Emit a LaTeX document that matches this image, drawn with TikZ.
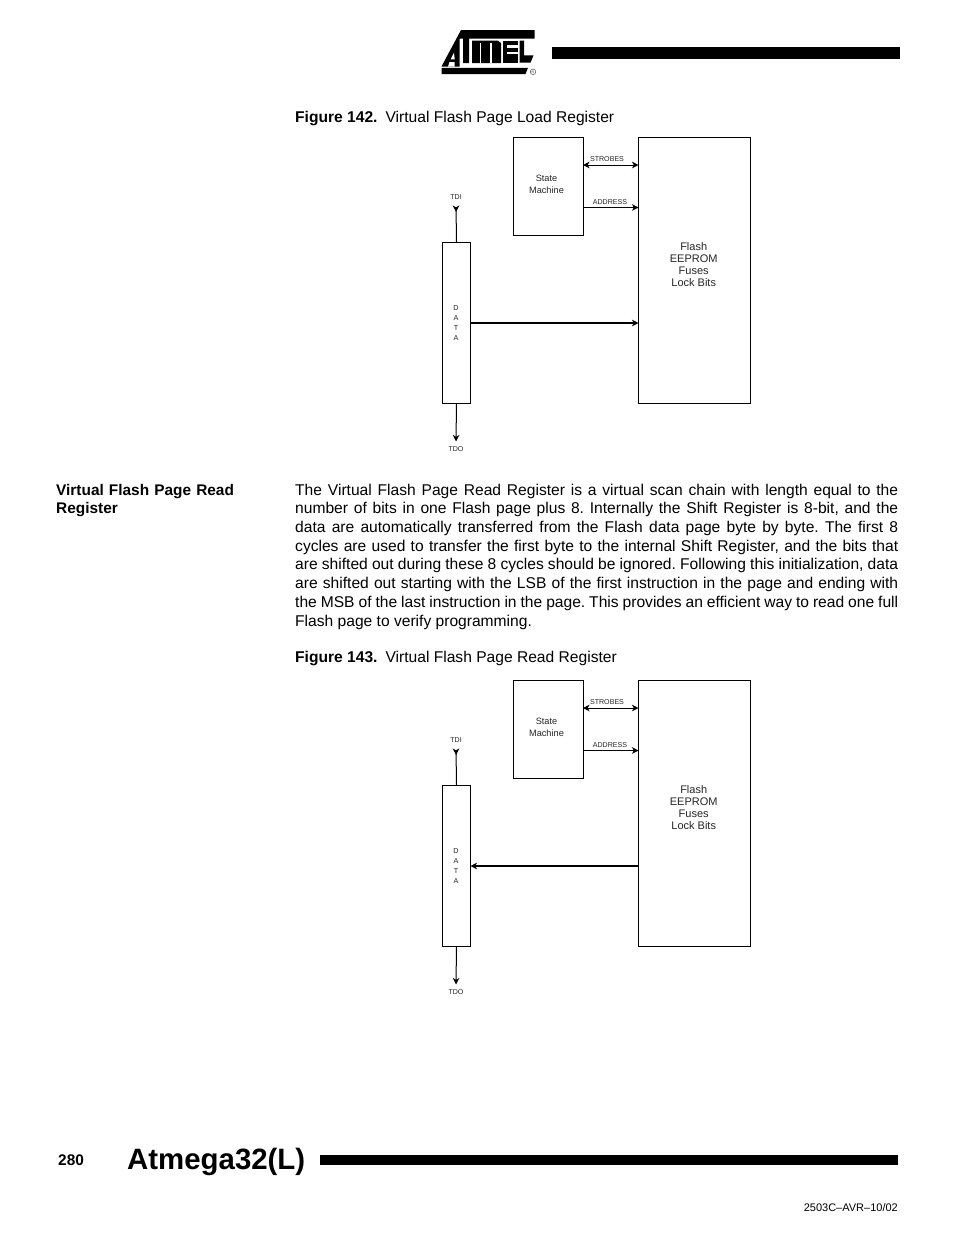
\documentclass[tikz,border=0pt]{standalone}
\usepackage{fontspec}
\setmainfont{Liberation Sans}
\usetikzlibrary{arrows.meta}
\frenchspacing
\tikzset{
  box/.style={draw=black,line width=1pt,inner sep=0pt,outer sep=0pt,anchor=north west,fill=white},
  smtext/.style={font=\fontsize{9.2}{12}\selectfont,text=black!85,inner sep=0pt,align=center},
  fltext/.style={font=\fontsize{11}{12}\selectfont,text=black!85,inner sep=0pt,align=center},
  tiny/.style={font=\fontsize{7.1}{9}\selectfont,text=black!85,inner sep=0pt},
  datatext/.style={font=\fontsize{7.2}{10.2}\selectfont,text=black!85,inner sep=0pt,align=center},
  conn/.style={line width=1pt,draw=black},
  thick conn/.style={line width=1.9pt,draw=black},
  tip/.tip={Stealth[length=6.5pt,width=6.5pt,inset=1.8pt]},
  body/.style={font=\fontsize{15.6}{18.72}\selectfont,inner sep=0pt,anchor=base west,align=justify,text=black},
  plain/.style={font=\fontsize{15.6}{18.72}\selectfont,inner sep=0pt,anchor=base west,text=black}
}
\newcommand{\figblock}[1]{%
  \node[box,minimum width=69.5pt,minimum height=98.5pt] (#1sm) at (513.5,137.3) {};
  \node[box,minimum width=112pt,minimum height=266pt] (#1fl) at (638.5,137.5) {};
  \node[box,minimum width=28pt,minimum height=161.5pt] (#1da) at (442.5,242) {};
  \node[smtext] (#1smt) at (546.5,184) {State\\Machine};
  \node[fltext] (#1flt) at (693.7,264.5) {Flash\\EEPROM\\Fuses\\Lock Bits};
  \node[datatext] (#1dat) at (456,323) {D\\A\\T\\A};
  \node[tiny] (#1tdi) at (456,196.6) {TDI};
  \node[tiny] (#1tdo) at (456,449) {TDO};
  \node[tiny] (#1str) at (607,159) {STROBES};
  \node[tiny] (#1adr) at (610,201.8) {ADDRESS};
  \coordinate (#1tdie) at (456,205.5);
  \coordinate (#1tdoe) at (456,441.5);
  \draw[conn,{tip[reversed]}-] (#1tdie) -- (#1da.north);
  \draw[conn,-{tip}] (#1da.south) -- (#1tdoe);
  \draw[conn,{tip}-{tip}] (#1sm.east |- 0,165) -- (#1fl.west |- 0,165);
  \draw[conn,-{tip}] (#1sm.east |- 0,207.5) -- (#1fl.west |- 0,207.5);
}
\begin{document}
\begin{tikzpicture}[x=1pt,y=-1pt]
\useasboundingbox (0,0) rectangle (954,1235);
\fill[white] (0,0) rectangle (954,1235);
% logo
\fill[black] (461,30) -- (534.7,30) -- (534.7,38.7) -- (469,38.7) -- (469,63) -- (463,63) -- (463,38.7) -- (459.7,38.7) -- (459.7,66.5) -- (441.5,66.5) -- cycle;
\fill[white] (454,52.7) -- (450.7,59.3) -- (454.7,59.3) -- cycle;
\fill[white] (448,66.6) -- (449.5,62) -- (454.7,62) -- (454.7,66.6) -- cycle;
\fill[black] (472,40.7) -- (498,40.7) -- (501,43) -- (501,63) -- (472,63) -- cycle;
\fill[white] (479.5,43) rectangle (481,63.2);
\fill[white] (490,43) rectangle (491.5,63.2);
\fill[black] (503,40.7) -- (518,40.7) -- (518,62.7) -- (503,62.7) -- cycle;
\fill[white] (507,45.3) rectangle (518.2,47.5);
\fill[white] (507,52) rectangle (518.2,54.2);
\fill[black] (519.7,40.7) -- (524,40.7) -- (524,55.3) -- (533.5,55.3) -- (530.5,62.7) -- (519.7,62.7) -- cycle;
\fill[black] (441.5,67.8) -- (528,67.8) -- (525.5,74) -- (441.5,74) -- cycle;
\draw[black!80,line width=.4pt] (533,71.8) circle (2.8pt);
\node[font=\fontsize{3.5}{4}\selectfont,inner sep=0pt,text=black!80] (regmark) at (533,71.8) {R};
% header and footer bars
\fill[black] (552,47) rectangle (900,59);
\fill[black] (320,1155) rectangle (898,1165);
% captions
\node[plain] (cap1) at (295,122) {\textbf{Figure 142.}\hspace{8pt}Virtual Flash Page Load Register};
\node[plain] (cap2) at (295,662.4) {\textbf{Figure 143.}\hspace{8pt}Virtual Flash Page Read Register};
\node[body,text width=220pt,align=left,font=\fontsize{15.4}{18.4}\selectfont] (sec) at (56,495) {\textbf{Virtual Flash Page Read}\\\textbf{Register}};
\node[body,text width=603pt,anchor=north west] (para) at (295,483.6) {The Virtual Flash Page Read Register is a virtual scan chain with length equal to the\linebreak
number of bits in one Flash page plus 8. Internally the Shift Register is 8-bit, and the\linebreak
data are automatically transferred from the Flash data page byte by byte. The first 8\linebreak
cycles are used to transfer the first byte to the internal Shift Register, and the bits that\linebreak
are shifted out during these 8 cycles should be ignored. Following this initialization, data\linebreak
are shifted out starting with the LSB of the first instruction in the page and ending with\linebreak
the MSB of the last instruction in the page. This provides an efficient way to read one full\linebreak
Flash page to verify programming.};
% figures
\begin{scope}
\figblock{a}
\draw[thick conn,-{tip}] (ada.east |- 0,323) -- (afl.west |- 0,323);
\end{scope}
\begin{scope}[yshift=-543pt]
\figblock{b}
\draw[thick conn,-{tip}] (bfl.west |- 0,323) -- (bda.east |- 0,323);
\end{scope}
% footer
\node[inner sep=0pt,anchor=base west,font=\bfseries\fontsize{15.4}{18}\selectfont] (pg) at (58,1165) {280};
\node[inner sep=0pt,anchor=base west,font=\bfseries\fontsize{29.4}{36}\selectfont] (ti) at (127,1169) {Atmega32(L)};
\node[inner sep=0pt,anchor=base east,font=\fontsize{11}{13}\selectfont] (doc) at (898,1211) {2503C–AVR–10/02};
\end{tikzpicture}
\end{document}
